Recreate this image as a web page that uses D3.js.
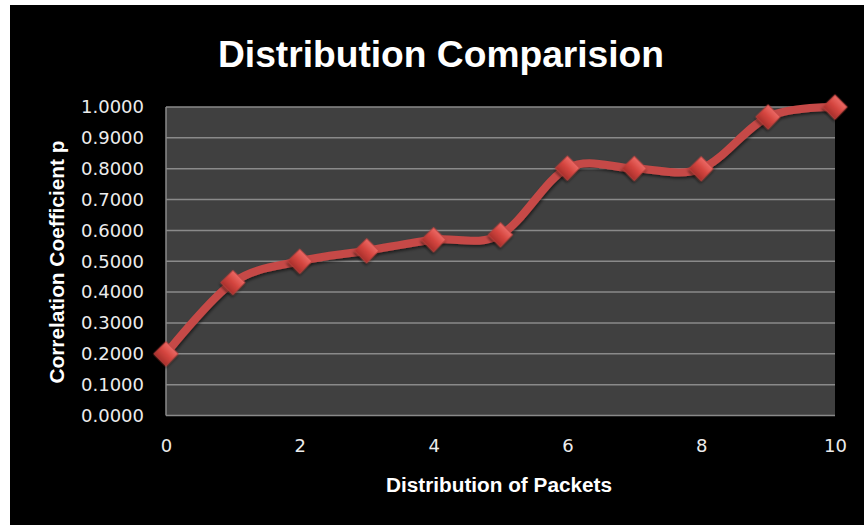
<!DOCTYPE html>
<html>
<head>
<meta charset="utf-8">
<script src="https://cdn.jsdelivr.net/npm/d3@7"></script>
<style>
  html, body { margin: 0; padding: 0; background: #ffffff; }
  svg { display: block; }
</style>
</head>
<body>
<svg id="chart" width="864" height="525"></svg>
<script>
// Correlation coefficient against packet distribution
const packets = [0, 1, 2, 3, 4, 5, 6, 7, 8, 9, 10];
const correlation = [0.2000, 0.4310, 0.5000, 0.5340, 0.5700, 0.5860, 0.8020, 0.8010, 0.8000, 0.9680, 1.0000];
const xTicks = [0, 2, 4, 6, 8, 10];
const yTicks = [0, 0.1, 0.2, 0.3, 0.4, 0.5, 0.6, 0.7, 0.8, 0.9, 1.0];

const titleText = "Distribution Comparision";
const xTitle = "Distribution of Packets";
const yTitle = "Correlation Coefficient p";

const svg = d3.select("#chart");
const W = 864, H = 525;
const plot = { left: 166, right: 835, top: 107, bottom: 415.5 };

const defs = svg.append("defs");
const grad = defs.append("linearGradient").attr("id", "markerFill")
  .attr("x1", 0).attr("y1", 0).attr("x2", 0).attr("y2", 1);
grad.append("stop").attr("offset", "0%").attr("stop-color", "#ec6a66");
grad.append("stop").attr("offset", "50%").attr("stop-color", "#d4453f");
grad.append("stop").attr("offset", "100%").attr("stop-color", "#a9302c");

const shadow = defs.append("filter").attr("id", "softShadow")
  .attr("x", "-20%").attr("y", "-20%").attr("width", "140%").attr("height", "140%");
shadow.append("feDropShadow").attr("dx", 1).attr("dy", 2).attr("stdDeviation", 1.5)
  .attr("flood-color", "#000").attr("flood-opacity", 0.55);

// Chart background
svg.append("rect").attr("x", 10).attr("y", 5).attr("width", W - 10).attr("height", H - 5)
  .attr("fill", "#000000");

const x = d3.scaleLinear().domain([0, 10]).range([plot.left, plot.right]);
const y = d3.scaleLinear().domain([0, 1]).range([plot.bottom, plot.top]);

// Plot area
svg.append("rect")
  .attr("x", plot.left).attr("y", plot.top)
  .attr("width", plot.right - plot.left).attr("height", plot.bottom - plot.top)
  .attr("fill", "#404040");

// Horizontal gridlines
svg.append("g").selectAll("line").data(yTicks).join("line")
  .attr("x1", plot.left).attr("x2", plot.right)
  .attr("y1", d => y(d)).attr("y2", d => y(d))
  .attr("stroke", "#8a8a8a").attr("stroke-width", 1.5);

// Axis lines
svg.append("line").attr("x1", plot.left).attr("x2", plot.left)
  .attr("y1", plot.top).attr("y2", plot.bottom)
  .attr("stroke", "#8a8a8a").attr("stroke-width", 1.5);

// Y axis labels
const yAxis = d3.axisLeft(y).tickValues(yTicks).tickFormat(d3.format(".4f")).tickSize(0).tickPadding(22);
const gy = svg.append("g").attr("transform", `translate(${plot.left},0)`).call(yAxis);
gy.select(".domain").remove();
gy.selectAll("text")
  .attr("fill", "#ececec")
  .style("font-family", "'DejaVu Sans', sans-serif")
  .style("font-size", "18px");

// X axis labels
const xAxis = d3.axisBottom(x).tickValues(xTicks).tickFormat(d3.format("d")).tickSize(0).tickPadding(24);
const gx = svg.append("g").attr("transform", `translate(0,${plot.bottom})`).call(xAxis);
gx.select(".domain").remove();
gx.selectAll("text")
  .attr("fill", "#ececec")
  .style("font-family", "'DejaVu Sans', sans-serif")
  .style("font-size", "18px");

// Smoothed series line
const line = d3.line()
  .x((d, i) => x(packets[i]))
  .y(d => y(d))
  .curve(d3.curveCatmullRom.alpha(0));

svg.append("path")
  .datum(correlation)
  .attr("d", line)
  .attr("fill", "none")
  .attr("stroke", "#c64a47")
  .attr("stroke-width", 8)
  .attr("stroke-linecap", "round")
  .attr("filter", "url(#softShadow)");

// Diamond markers
const diamond = d3.symbol().type(d3.symbolSquare).size(300);
svg.append("g").selectAll("path").data(correlation).join("path")
  .attr("d", diamond)
  .attr("transform", (d, i) => `translate(${x(packets[i])},${y(d)}) rotate(45)`)
  .attr("fill", "url(#markerFill)")
  .attr("stroke", "#b9403c")
  .attr("stroke-width", 0.8)
  .attr("filter", "url(#softShadow)");

// Titles
svg.append("text")
  .attr("x", 441).attr("y", 67)
  .attr("text-anchor", "middle")
  .attr("fill", "#ffffff")
  .attr("textLength", 446)
  .attr("lengthAdjust", "spacingAndGlyphs")
  .style("font-family", "'Liberation Sans', Arial, sans-serif")
  .style("font-weight", "bold")
  .style("font-size", "37px")
  .text(titleText);

svg.append("text")
  .attr("x", 499).attr("y", 492)
  .attr("text-anchor", "middle")
  .attr("fill", "#ffffff")
  .attr("textLength", 226)
  .attr("lengthAdjust", "spacingAndGlyphs")
  .style("font-family", "'Liberation Sans', Arial, sans-serif")
  .style("font-weight", "bold")
  .style("font-size", "20px")
  .text(xTitle);

svg.append("text")
  .attr("transform", "translate(64,262) rotate(-90)")
  .attr("text-anchor", "middle")
  .attr("fill", "#ffffff")
  .attr("textLength", 243)
  .attr("lengthAdjust", "spacingAndGlyphs")
  .style("font-family", "'Liberation Sans', Arial, sans-serif")
  .style("font-weight", "bold")
  .style("font-size", "20px")
  .text(yTitle);
</script>
</body>
</html>
